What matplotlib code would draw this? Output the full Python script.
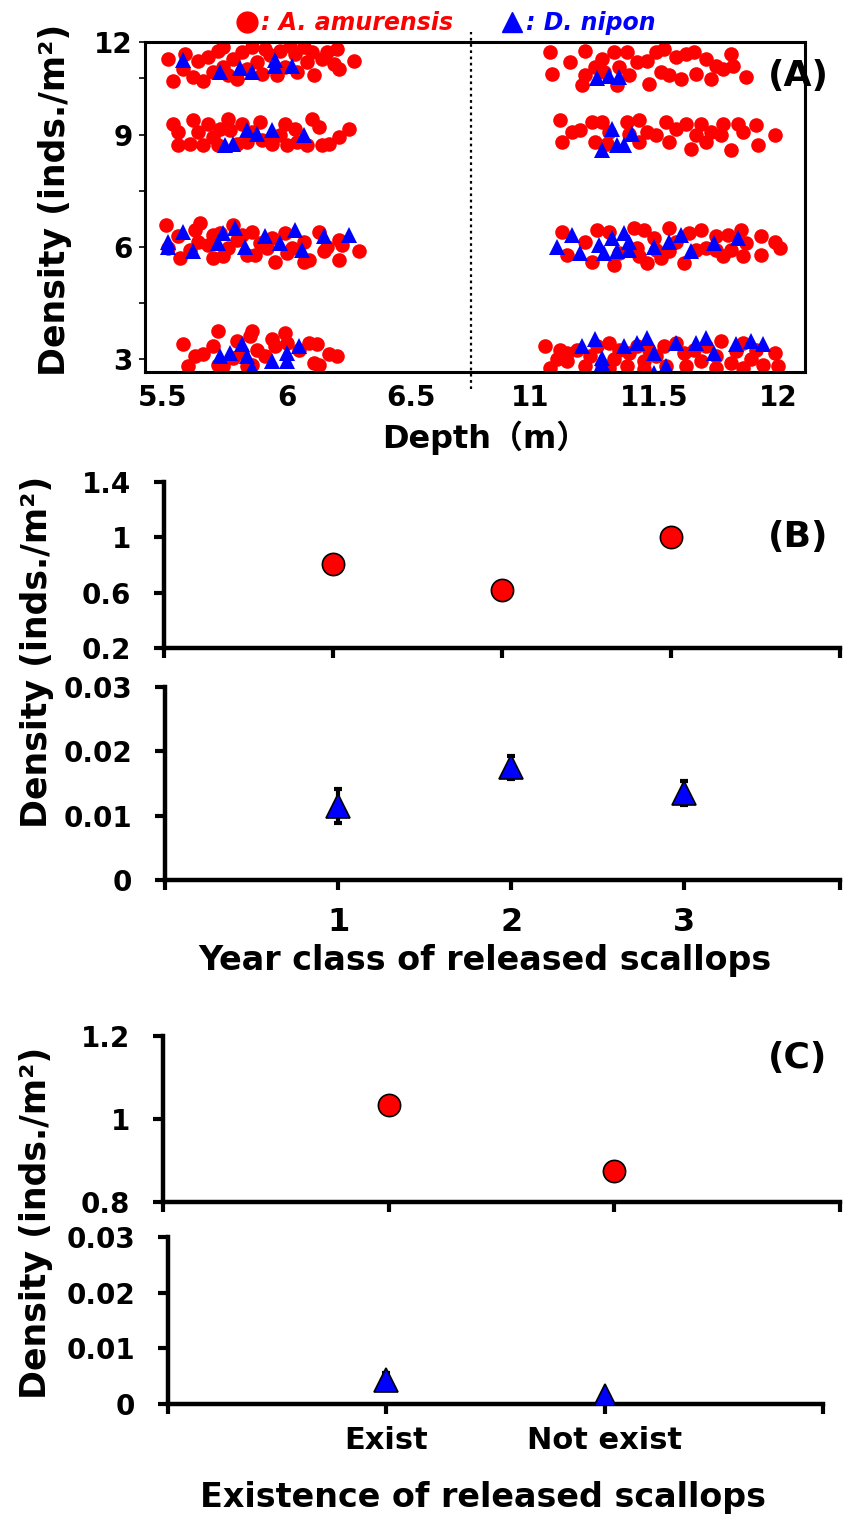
import numpy as np
import matplotlib
matplotlib.use("Agg")
import matplotlib.pyplot as plt
from matplotlib.lines import Line2D

plt.rcParams['font.family'] = ['DejaVu Sans']
plt.rcParams['font.weight'] = 'bold'
plt.rcParams['axes.labelweight'] = 'bold'

RED = '#ff0000'
BLUE = '#0000ff'

# ---- panel A: individual records (depth m, density inds./m2) ----
amur_shallow = [
    # row 12
    (5.52, 11.02), (5.54, 10.44), (5.59, 11.15), (5.58, 10.75), (5.62, 10.53), (5.64, 10.97),
    (5.66, 10.44), (5.68, 11.06), (5.70, 10.66), (5.72, 11.24), (5.74, 11.33), (5.74, 10.80),
    (5.76, 10.58), (5.78, 11.02), (5.80, 10.49), (5.82, 11.20), (5.84, 10.75), (5.86, 11.33),
    (5.88, 10.93), (5.90, 10.62), (5.91, 11.29), (5.93, 11.11), (5.96, 10.58), (5.97, 11.24),
    (5.99, 10.80), (6.01, 11.37), (6.03, 11.15), (6.04, 10.66), (6.07, 11.33), (6.08, 10.93),
    (6.10, 11.20), (6.11, 10.58), (6.14, 11.02), (6.16, 11.20), (6.19, 10.89), (6.20, 11.29),
    (6.21, 10.75), (6.27, 10.97),
    # row 9
    (5.54, 9.29), (5.56, 9.07), (5.56, 8.71), (5.61, 8.76), (5.62, 9.38), (5.64, 9.07),
    (5.66, 8.71), (5.68, 9.29), (5.70, 8.93), (5.72, 8.71), (5.73, 9.16), (5.76, 9.42),
    (5.77, 9.11), (5.80, 8.76), (5.82, 9.29), (5.84, 8.80), (5.86, 9.07), (5.89, 9.33),
    (5.90, 8.85), (5.94, 8.76), (5.97, 8.98), (5.99, 9.29), (6.00, 8.71), (6.03, 9.16),
    (6.04, 8.80), (6.08, 8.71), (6.10, 9.42), (6.13, 9.20), (6.14, 8.71), (6.17, 8.76),
    (6.21, 8.93), (6.25, 9.16),
    # row 6
    (5.51, 6.59), (5.52, 5.97), (5.56, 6.28), (5.57, 5.70), (5.61, 5.92), (5.63, 6.46),
    (5.65, 6.63), (5.64, 6.14), (5.68, 6.06), (5.70, 5.70), (5.70, 6.32), (5.73, 6.37),
    (5.74, 5.75), (5.76, 5.97), (5.78, 6.59), (5.80, 6.19), (5.82, 6.32), (5.84, 5.79),
    (5.86, 6.41), (5.87, 5.79), (5.89, 6.10), (5.92, 5.97), (5.94, 6.23), (5.95, 5.61),
    (5.99, 6.37), (6.00, 5.83), (6.02, 5.97), (6.07, 6.14), (6.07, 5.61), (6.09, 5.66),
    (6.13, 6.41), (6.15, 5.88), (6.16, 6.01), (6.21, 6.19), (6.21, 5.66), (6.22, 6.06),
    (6.29, 5.88),
    # row 3
    (5.58, 3.40), (5.60, 2.82), (5.63, 3.09), (5.66, 3.13), (5.70, 3.35), (5.72, 3.75),
    (5.72, 2.86), (5.74, 2.82), (5.78, 3.04), (5.80, 3.48), (5.82, 3.17), (5.84, 2.82),
    (5.85, 3.62), (5.86, 3.75), (5.86, 2.86), (5.88, 3.26), (5.91, 3.09), (5.94, 3.53),
    (5.95, 3.35), (5.99, 3.70), (6.00, 3.44), (6.05, 3.26), (6.09, 3.44), (6.11, 2.91),
    (6.12, 3.40), (6.13, 2.86), (6.17, 3.13), (6.20, 3.09),
]
amur_deep = [
    # row 12
    (11.08, 11.20), (11.09, 10.62), (11.16, 10.93), (11.22, 10.58), (11.21, 10.31), (11.22, 11.24),
    (11.26, 10.80), (11.29, 11.02), (11.30, 10.66), (11.34, 11.20), (11.35, 10.31), (11.36, 10.80),
    (11.39, 11.20), (11.40, 10.58), (11.43, 10.93), (11.47, 10.97), (11.48, 10.35), (11.51, 11.20),
    (11.53, 10.66), (11.54, 11.29), (11.56, 10.58), (11.59, 11.06), (11.61, 10.49), (11.63, 11.15),
    (11.66, 11.20), (11.67, 10.62), (11.71, 11.02), (11.73, 10.49), (11.75, 10.84), (11.78, 10.75),
    (11.81, 11.15), (11.82, 10.84), (11.87, 10.53),
    # row 9
    (11.12, 9.38), (11.13, 8.80), (11.17, 9.07), (11.20, 9.11), (11.25, 9.33), (11.26, 8.80),
    (11.29, 9.33), (11.31, 8.76), (11.32, 9.07), (11.39, 9.33), (11.40, 9.02), (11.44, 9.38),
    (11.44, 8.80), (11.47, 9.07), (11.51, 8.98), (11.55, 9.33), (11.56, 8.80), (11.59, 9.16),
    (11.63, 9.29), (11.65, 8.62), (11.67, 8.98), (11.69, 9.29), (11.71, 8.80), (11.73, 9.07),
    (11.77, 8.98), (11.78, 9.29), (11.81, 8.58), (11.84, 9.29), (11.86, 9.07), (11.91, 9.25),
    (11.92, 8.71), (11.99, 8.98),
    # row 6
    (11.13, 6.41), (11.15, 5.79), (11.22, 6.14), (11.25, 5.61), (11.27, 6.46), (11.32, 6.41),
    (11.34, 5.52), (11.36, 5.83), (11.42, 6.50), (11.43, 5.97), (11.46, 6.46), (11.47, 5.57),
    (11.50, 6.23), (11.53, 5.70), (11.56, 6.50), (11.59, 6.14), (11.62, 5.57), (11.64, 6.37),
    (11.67, 5.92), (11.69, 6.46), (11.71, 5.97), (11.75, 6.28), (11.78, 5.75), (11.80, 6.32),
    (11.81, 5.92), (11.85, 6.46), (11.87, 6.10), (11.93, 6.28), (11.93, 5.79), (11.99, 6.14),
    (12.01, 5.97), (11.51, 5.92), (11.44, 5.75), (11.56, 5.88), (11.75, 5.92), (11.86, 5.75),
    # row 3
    (11.06, 3.35), (11.08, 2.77), (11.12, 3.26), (11.11, 3.00), (11.15, 2.95), (11.19, 3.26),
    (11.22, 2.82), (11.24, 3.09), (11.27, 3.35), (11.29, 2.86), (11.32, 3.44), (11.34, 3.00),
    (11.36, 3.26), (11.39, 2.82), (11.40, 3.17), (11.43, 3.35), (11.46, 2.95), (11.48, 3.26),
    (11.51, 3.09), (11.54, 3.35), (11.55, 2.82), (11.59, 3.44), (11.62, 3.17), (11.63, 2.82),
    (11.66, 3.26), (11.69, 2.95), (11.71, 3.35), (11.75, 3.09), (11.77, 3.48), (11.81, 2.91),
    (11.83, 3.22), (11.86, 3.44), (11.89, 3.00), (11.91, 3.26), (11.94, 2.86), (11.99, 3.17),
    (12.00, 2.82), (11.15, 3.17), (11.32, 2.77), (11.46, 2.73), (11.75, 2.77), (11.86, 2.77),
]
nipon_shallow = [
    (5.58, 11.00), (5.73, 10.66), (5.81, 10.77), (5.86, 10.66), (5.95, 11.00), (5.95, 10.82),
    (6.02, 10.82),
    (5.75, 8.71), (5.78, 8.76), (5.84, 9.11), (5.88, 9.02), (5.94, 9.11), (6.07, 9.00),
    (5.52, 6.14), (5.52, 6.01), (5.58, 6.41), (5.62, 5.88), (5.72, 6.10), (5.74, 6.37),
    (5.79, 6.50), (5.83, 6.01), (5.91, 6.28), (5.97, 6.10), (6.03, 6.46), (6.06, 5.92),
    (6.15, 6.28), (6.25, 6.32),
    (5.73, 3.09), (5.77, 3.17), (5.82, 3.40), (5.84, 3.09), (5.86, 2.77), (5.94, 2.95),
    (6.00, 3.17), (6.00, 2.95), (6.05, 3.35),
]
nipon_deep = [
    (11.27, 10.50), (11.32, 10.56), (11.36, 10.53),
    (11.29, 8.58), (11.33, 9.16), (11.35, 8.71), (11.38, 8.71), (11.41, 9.02),
    (11.11, 6.01), (11.17, 6.32), (11.20, 5.83), (11.28, 6.06), (11.30, 5.83), (11.33, 6.23),
    (11.35, 5.88), (11.38, 6.37), (11.40, 5.92), (11.50, 6.01), (11.56, 6.14), (11.61, 6.32),
    (11.65, 5.88), (11.74, 6.10), (11.84, 6.23), (11.40, 6.14),
    (11.21, 3.35), (11.26, 3.53), (11.29, 3.04), (11.38, 3.35), (11.43, 3.44), (11.47, 3.57),
    (11.50, 3.17), (11.55, 2.82), (11.59, 3.44), (11.67, 3.44), (11.71, 3.57), (11.74, 3.17),
    (11.83, 3.40), (11.89, 3.48), (11.94, 3.40), (11.50, 2.64), (11.29, 2.91),
]
depth_ticks = [5.5, 6, 6.5, 11, 11.5, 12]
depth_labels = ['5.5', '6', '6.5', '11', '11.5', '12']
density_ticks = [3, 6, 9]

# ---- panel B: year class means ----
year_class = [1, 2, 3]
amur_year = [0.81, 0.62, 1.00]
nipon_year = [0.0115, 0.0175, 0.0135]
nipon_year_err = [0.0027, 0.0018, 0.0019]

# ---- panel C: existence of released scallops ----
exist_labels = ['Exist', 'Not exist']
exist_pos = [1, 2]
amur_exist = [1.034, 0.875]
nipon_exist = [0.0043, 0.0015]
nipon_exist_err = [0.0012, 0.0005]

GAP = 4.02  # depth gap removed between the two sampling depths


def depth_x(d):
    d = np.asarray(d, dtype=float)
    return np.where(d > 9, d - GAP, d)


W, H = 850, 1517
fig = plt.figure(figsize=(W / 100, H / 100), dpi=100)


def px_axes(left, top, right, bottom):
    return fig.add_axes([left / W, 1 - bottom / H, (right - left) / W, (bottom - top) / H])


# ================= panel A =================
axA = px_axes(145, 42, 805, 372)
for pts, col, mk, ms in [(amur_shallow, RED, 'o', 10.5), (amur_deep, RED, 'o', 10.5),
                         (nipon_shallow, BLUE, '^', 11), (nipon_deep, BLUE, '^', 11)]:
    arr = np.array(pts)
    axA.plot(depth_x(arr[:, 0]), arr[:, 1], ls='none', marker=mk, ms=ms,
             mfc=col, mec=col, mew=0)

top_y = 11.47
axA.set_xlim(5.427, 8.089)
axA.set_ylim(2.66, top_y)
axA.set_xticks(depth_x(depth_ticks))
axA.set_xticklabels(depth_labels)
axA.set_yticks(density_ticks + [top_y])
axA.set_yticklabels([str(v) for v in density_ticks] + ['12'])
axA.set_yticks([4.5, 7.5, 10.5], minor=True)
axA.tick_params(axis='x', length=0, pad=9, labelsize=20)
axA.tick_params(axis='y', which='both', direction='out', length=4, width=1.2, pad=5,
                labelsize=20)
for sp in axA.spines.values():
    sp.set_linewidth(2.2)

# dotted break line between depths
brk = (6.5 + depth_x(11)) / 2
axA.add_line(Line2D([brk, brk], [-0.05, 1.03], transform=axA.get_xaxis_transform(),
                    color='black', ls=(0, (1.2, 1.6)), lw=1.6, clip_on=False))

handles = [Line2D([], [], ls='none', marker='o', ms=15, mfc=RED, mec=RED),
           Line2D([], [], ls='none', marker='^', ms=15, mfc=BLUE, mec=BLUE)]
leg = axA.legend(handles, [': A. amurensis', ': D. nipon'], loc='lower center',
                 bbox_to_anchor=(0.455, 0.985), ncol=2, frameon=False,
                 handletextpad=0.1, columnspacing=2.0, borderpad=0, handlelength=1.0,
                 prop={'size': 17, 'weight': 'bold', 'style': 'italic'})
for txt, col in zip(leg.get_texts(), [RED, BLUE]):
    txt.set_color(col)

fig.text(485 / W, 1 - 438 / H, 'Depth（m）', ha='center', va='center', fontsize=23,
         fontweight='bold', family=['DejaVu Sans', 'Noto Sans CJK JP'])
fig.text(55 / W, 1 - 200 / H, 'Density (inds./m²)', rotation=90, ha='center', va='center',
         fontsize=25, fontweight='bold')
fig.text(798 / W, 1 - 76 / H, '(A)', ha='center', va='center', fontsize=26, fontweight='bold')


# ================= panels B and C =================
def style_split(ax, ylim, yticks, ylabels, xlim, xticks):
    ax.set_xlim(*xlim)
    ax.set_ylim(*ylim)
    ax.set_yticks(yticks)
    ax.set_yticklabels(ylabels)
    ax.set_xticks(xticks)
    ax.spines['top'].set_visible(False)
    ax.spines['right'].set_visible(False)
    for s in ('left', 'bottom'):
        ax.spines[s].set_linewidth(3.2)
    ax.tick_params(direction='out', length=7.5, width=3, labelsize=20)
    ax.tick_params(axis='y', pad=16)


# B upper
axB1 = px_axes(164, 482, 840, 648)
axB1.plot(year_class, amur_year, ls='none', marker='o', ms=16, mfc=RED, mec='black', mew=1.2)
style_split(axB1, (0.2, 1.4), [0.2, 0.6, 1.0, 1.4], ['0.2', '0.6', '1', '1.4'],
            (0, 4), [0, 1, 2, 3, 4])
axB1.set_xticklabels([])

# B lower
axB2 = px_axes(165, 687, 840, 880)
axB2.errorbar(year_class, nipon_year, yerr=nipon_year_err, ls='none', ecolor='black',
              elinewidth=3, capsize=3, capthick=3, zorder=2)
axB2.plot(year_class, nipon_year, ls='none', marker='^', ms=17, mfc=BLUE, mec='black',
          mew=1.2, zorder=3)
style_split(axB2, (0, 0.03), [0, 0.01, 0.02, 0.03], ['0', '0.01', '0.02', '0.03'],
            (0, 3.9), [0, 1, 2, 3, 3.9])
axB2.set_xticklabels(['', '1', '2', '3', ''])
axB2.tick_params(axis='x', pad=12, labelsize=23)

fig.text(485 / W, 1 - 960 / H, 'Year class of released scallops', ha='center', va='center',
         fontsize=24, fontweight='bold')
fig.text(37 / W, 1 - 652 / H, 'Density (inds./m²)', rotation=90, ha='center', va='center',
         fontsize=25, fontweight='bold')
fig.text(798 / W, 1 - 537 / H, '(B)', ha='center', va='center', fontsize=26, fontweight='bold')

# C upper
axC1 = px_axes(163, 1036, 840, 1202)
axC1.plot(exist_pos, amur_exist, ls='none', marker='o', ms=16, mfc=RED, mec='black', mew=1.2)
style_split(axC1, (0.8, 1.2), [0.8, 1.0, 1.2], ['0.8', '1', '1.2'], (0, 3), [0, 1, 2, 3])
axC1.set_xticklabels([])

# C lower
axC2 = px_axes(168, 1237, 823, 1404)
axC2.errorbar(exist_pos, nipon_exist, yerr=nipon_exist_err, ls='none', ecolor='black',
              elinewidth=3, capsize=3, capthick=3, zorder=2)
axC2.plot(exist_pos, nipon_exist, ls='none', marker='^', ms=17, mfc=BLUE, mec='black',
          mew=1.2, zorder=3)
style_split(axC2, (0, 0.03), [0, 0.01, 0.02, 0.03], ['0', '0.01', '0.02', '0.03'],
            (0, 3), [0, 1, 2, 3])
axC2.set_xticklabels(['', exist_labels[0], exist_labels[1], ''])
axC2.tick_params(axis='x', pad=8, labelsize=22)

fig.text(483 / W, 1 - 1497 / H, 'Existence of released scallops', ha='center', va='center',
         fontsize=24, fontweight='bold')
fig.text(36 / W, 1 - 1223 / H, 'Density (inds./m²)', rotation=90, ha='center', va='center',
         fontsize=25, fontweight='bold')
fig.text(798 / W, 1 - 1058 / H, '(C)', ha='center', va='center', fontsize=26, fontweight='bold')

fig.savefig('out.png', dpi=100)
